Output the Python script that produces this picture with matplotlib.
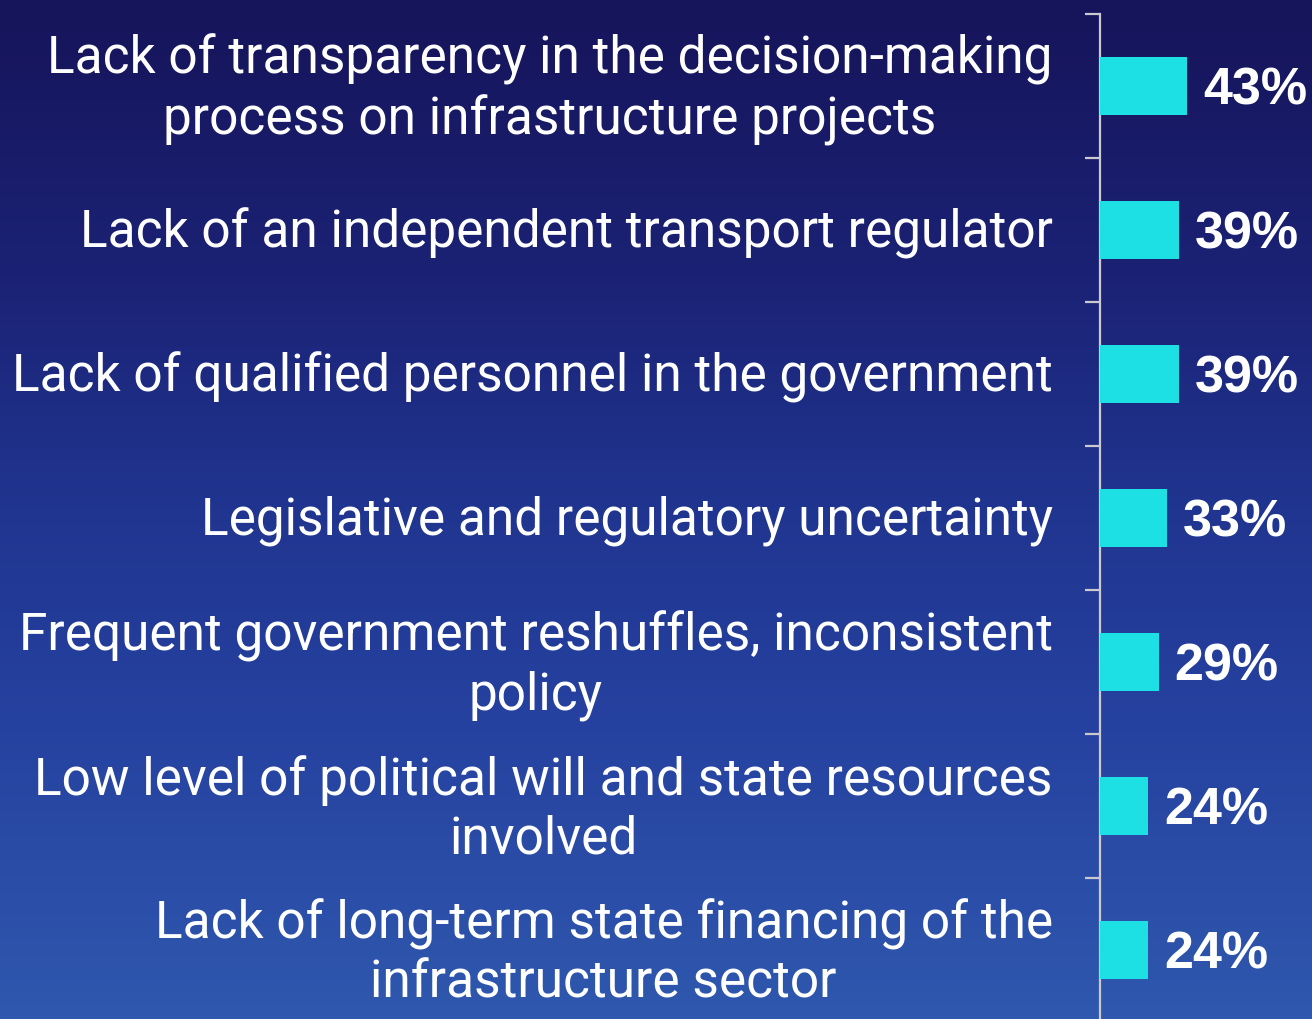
import numpy as np
import matplotlib
matplotlib.use("Agg")
import matplotlib.pyplot as plt
from matplotlib.colors import LinearSegmentedColormap

categories = [
    "Lack of transparency in the decision-making\nprocess on infrastructure projects",
    "Lack of an independent transport regulator",
    "Lack of qualified personnel in the government",
    "Legislative and regulatory uncertainty",
    "Frequent government reshuffles, inconsistent\npolicy",
    "Low level of political will and state resources\ninvolved",
    "Lack of long-term state financing of the\ninfrastructure sector",
]
values = [43, 39, 39, 33, 29, 24, 24]
value_labels = ["43%", "39%", "39%", "33%", "29%", "24%", "24%"]

W, H = 1312, 1020
fig = plt.figure(figsize=(W / 100, H / 100), dpi=100)

# background gradient
bg = fig.add_axes([0, 0, 1, 1], zorder=-10)
cmap = LinearSegmentedColormap.from_list(
    "bg", [(0.0, "#16145a"), (0.27, "#1b2275"), (0.5, "#203590"),
           (0.72, "#2642a0"), (1.0, "#2f58ae")])
grad = np.linspace(0, 1, 256).reshape(-1, 1)
bg.imshow(grad, aspect="auto", cmap=cmap, extent=[0, 1, 0, 1], origin="upper")
bg.axis("off")

slot = 144
top_px = 15
n = len(categories)
ax_left = 1100 / W
ax_w = (W - 1100) / W
ax_top = 1 - top_px / H
ax_h = n * slot / H
ax = fig.add_axes([ax_left, ax_top - ax_h, ax_w, ax_h])
ax.patch.set_alpha(0)

y = np.arange(n)
ax.barh(y, values, height=0.4, color="#1ce0e3", zorder=3)
ax.set_xlim(0, (W - 1100) / 2.02)
ax.set_ylim(n - 0.5, -0.5)

for s in ["top", "right", "bottom"]:
    ax.spines[s].set_visible(False)
ax.spines["left"].set_color("#c9c9cf")
ax.spines["left"].set_linewidth(1.6)
ax.set_xticks([])

ax.set_yticks(y)
ax.set_yticklabels([])
ax.tick_params(axis="y", which="major", length=0)
ax.set_yticks(np.arange(n + 1) - 0.5, minor=True)
ax.tick_params(axis="y", which="minor", length=11, width=1.6,
               color="#c9c9cf", direction="out")

for yi, cat in zip(y, categories):
    dy = -2.0 if "\n" in cat else -1.5
    ax.annotate(cat, xy=(0, yi), xytext=(-34, dy), textcoords="offset points",
                ha="right", va="center", multialignment="center",
                fontsize=37, color="white", fontfamily="Roboto",
                linespacing=1.22, annotation_clip=False)

for yi, v, lab in zip(y, values, value_labels):
    ax.annotate(lab, xy=(v, yi), xytext=(11.5, -3), textcoords="offset points",
                ha="left", va="center", fontsize=37.5, fontweight="bold",
                color="white", fontfamily="Liberation Sans")

fig.savefig("out.png", dpi=100)
